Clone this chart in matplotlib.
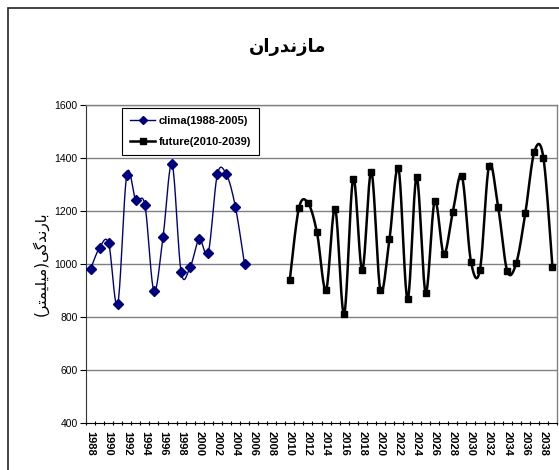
import numpy as np
import matplotlib
matplotlib.use('Agg')
import matplotlib.pyplot as plt
from matplotlib.lines import Line2D
from matplotlib.patches import Rectangle

years = list(range(1988, 2040))

clima_years = list(range(1988, 2006))
clima_vals = [980, 1062, 1078, 848, 1337, 1240, 1223, 898, 1101, 1377,
              970, 988, 1094, 1043, 1338, 1338, 1215, 1000]

future_years = list(range(2010, 2040))
future_vals = [940, 1210, 1231, 1119, 902, 1209, 811, 1322, 977, 1348,
               901, 1093, 1361, 867, 1327, 892, 1238, 1038, 1196, 1332,
               1009, 979, 1371, 1216, 974, 1003, 1191, 1424, 1401, 987]

# Persian text written in visual (left to right) order with presentation forms
title = '\uFEE5\uFE8D\uFEAD\uFEAA\uFEE7\uFEAF\uFE8E\uFEE3'  # مازندران
ylabel = ('(\uFEAE\uFE98\uFEE4\uFBFF\uFEE0\uFBFF\uFEE3)'
          '\uFBFD\uFB94\uFEAA\uFEE7\uFEAD\uFE8E\uFE91')  # بارندگی(میلیمتر)


def _smooth(xs, ys, n=20):
    # excel style smoothed line (catmull-rom bezier)
    xs = np.asarray(xs, float)
    ys = np.asarray(ys, float)
    px = np.concatenate([[xs[0]], xs, [xs[-1]]])
    py = np.concatenate([[ys[0]], ys, [ys[-1]]])
    out_x, out_y = [], []
    t = np.linspace(0, 1, n)
    for i in range(1, len(px) - 2):
        p0 = np.array([px[i], py[i]])
        p3 = np.array([px[i + 1], py[i + 1]])
        c1 = p0 + (np.array([px[i + 1], py[i + 1]]) - np.array([px[i - 1], py[i - 1]])) / 6
        c2 = p3 - (np.array([px[i + 2], py[i + 2]]) - np.array([px[i], py[i]])) / 6
        b = ((1 - t) ** 3)[:, None] * p0 + (3 * (1 - t) ** 2 * t)[:, None] * c1 \
            + (3 * (1 - t) * t ** 2)[:, None] * c2 + (t ** 3)[:, None] * p3
        out_x.extend(b[:, 0])
        out_y.extend(b[:, 1])
    return out_x, out_y


plt.rcParams['font.family'] = ['Liberation Sans', 'DejaVu Sans']

fig = plt.figure(figsize=(5.59, 4.70), dpi=100)
ax = fig.add_axes([86 / 559, 1 - 423 / 470, 471 / 559, 318 / 470])

# outer chart border
fig.patches.append(Rectangle((8 / 559, -0.1), 1.2, 1.1 - 8 / 470,
                             transform=fig.transFigure, fill=False,
                             edgecolor='#222222', linewidth=1.2))

cx = [years.index(y) for y in clima_years]
fx = [years.index(y) for y in future_years]

sx, sy = _smooth(cx, clima_vals)
ax.plot(sx, sy, color='#000080', linewidth=1.0, zorder=3)
ax.plot(cx, clima_vals, linestyle='none', marker='D', markersize=5,
        color='#000080', zorder=4)

sx, sy = _smooth(fx, future_vals)
ax.plot(sx, sy, color='black', linewidth=1.8, zorder=3)
ax.plot(fx, future_vals, linestyle='none', marker='s', markersize=4.5,
        color='black', zorder=4)

ax.set_xlim(-0.5, len(years) - 0.5)
ax.set_ylim(400, 1600)
ax.set_yticks(range(400, 1601, 200))
for v in range(600, 1601, 200):
    ax.axhline(v, color='#808080', linewidth=1.0, zorder=1)

ax.set_xticks(range(0, len(years), 2))
ax.set_xticklabels([str(y) for y in years[::2]], rotation=270,
                   fontsize=8, fontweight='bold')
ax.set_xticks(np.arange(-0.5, len(years), 1), minor=True)
ax.tick_params(axis='x', which='major', length=0, pad=6)
ax.tick_params(axis='x', which='minor', length=3, direction='inout', width=0.8)
ax.tick_params(axis='y', length=4, width=0.8, labelsize=7.5, pad=2)

for s in ['top', 'right']:
    ax.spines[s].set_color('#808080')
    ax.spines[s].set_linewidth(1.0)
ax.spines['left'].set_color('#333333')
ax.spines['bottom'].set_color('black')

ax.set_ylabel(ylabel, family='DejaVu Sans', fontsize=11, labelpad=4)

fig.text(288 / 559, 1 - 47 / 470, title, family='DejaVu Sans',
         fontsize=13, fontweight='bold', ha='center', va='center')

handles = [Line2D([], [], color='#000080', linewidth=1.0, marker='D', markersize=4.5),
           Line2D([], [], color='black', linewidth=1.8, marker='s', markersize=4.5)]
leg = ax.legend(handles, ['clima(1988-2005)', 'future(2010-2039)'],
                loc='upper left', bbox_to_anchor=(36 / 471, 1 - 3 / 318),
                fancybox=False, framealpha=1, edgecolor='black',
                prop={'size': 8, 'weight': 'bold'}, handlelength=2.3,
                handletextpad=0.3, borderpad=0.7, labelspacing=1.0,
                borderaxespad=0)
leg.get_frame().set_linewidth(0.8)

plt.savefig('out.png', dpi=100)
